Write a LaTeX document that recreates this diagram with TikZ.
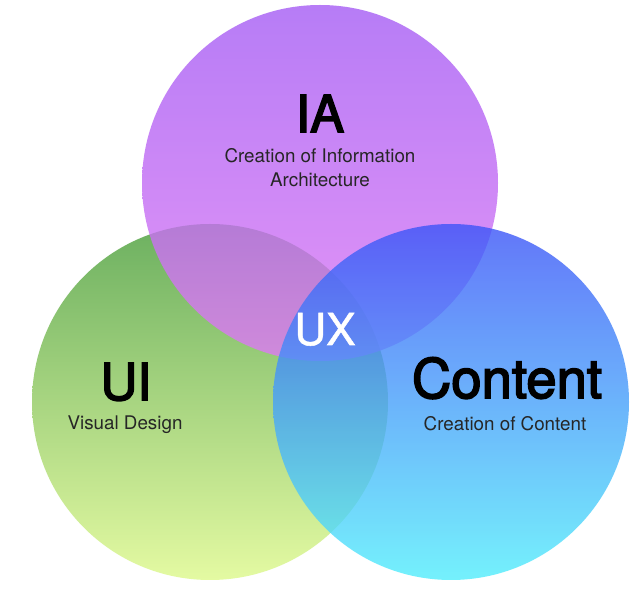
\documentclass[tikz,border=0pt]{standalone}
\usepackage{fontspec}
\setmainfont{TeX Gyre Heros}
\newfontfamily\heavyfont[FakeBold=3]{TeX Gyre Heros}
\newfontfamily\midfont[FakeBold=1.2]{TeX Gyre Heros}

\definecolor{uitop}{RGB}{108,176,96}
\definecolor{uibot}{RGB}{228,250,162}
\definecolor{iatop}{RGB}{165,92,244}
\definecolor{iabot}{RGB}{222,122,244}
\definecolor{cotop}{RGB}{60,84,248}
\definecolor{cobot}{RGB}{82,238,252}

\begin{document}
\begin{tikzpicture}[x=1pt, y=1pt,
    title/.style={font=\heavyfont\fontsize{51}{51}\selectfont, anchor=base},
    sub/.style={font=\fontsize{18.8}{24}\selectfont, text=black!85, align=center, anchor=base}]
    \fill[white] (0,0) rectangle (635,600);
    % the three sets, UI at the bottom, content on top
    \shade[top color=uitop, bottom color=uibot] (210,198) circle (178pt);
    \shade[top color=iatop, bottom color=iabot, opacity=0.8] (320,417) circle (178pt);
    \shade[top color=cotop, bottom color=cobot, opacity=0.8] (451,198) circle (178pt);
    % labels
    \node[title] (ia) at (320,468) {IA};
    \node[sub] (iasub) at (320,413) {Creation of Information\\Architecture};
    \node[title] (ui) at (126,200) {UI};
    \node[sub] (uisub) at (125,170) {Visual Design};
    \node[title, font=\heavyfont\fontsize{54.5}{55}\selectfont] (content) at (507,202) {Content};
    \node[sub] (contentsub) at (505,169) {Creation of Content};
    \node[font=\midfont\fontsize{44}{44}\selectfont, text=white, anchor=base] (ux) at (325,255) {UX};
\end{tikzpicture}
\end{document}
